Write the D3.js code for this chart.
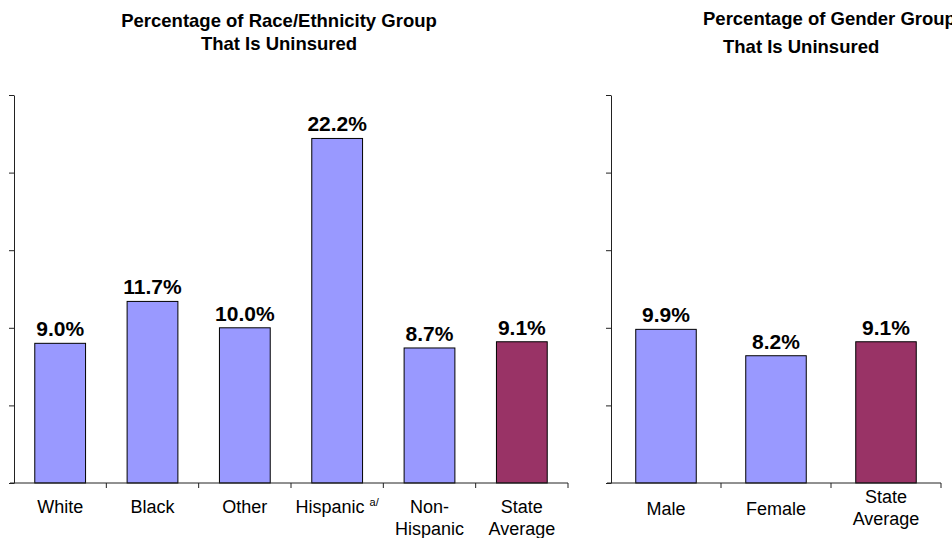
<!DOCTYPE html>
<html>
<head>
<meta charset="utf-8">
<script src="https://cdnjs.cloudflare.com/ajax/libs/d3/7.8.5/d3.min.js"></script>
<style>
  body { margin: 0; background: #fff; }
  svg { font-family: "Liberation Sans", Arial, sans-serif; }
</style>
</head>
<body>
<div id="chart"></div>
<script>
// race / ethnicity panel
var raceCats = ["White", "Black", "Other", "Hispanic", "Non-Hispanic", "State Average"];
var raceVals = [9.0, 11.7, 10.0, 22.2, 8.7, 9.1];
// gender panel
var genderCats = ["Male", "Female", "State Average"];
var genderVals = [9.9, 8.2, 9.1];
var yTicks = [0, 5, 10, 15, 20, 25];

var width = 952, height = 538;
var base = 483, top_ = 95;

var svg = d3.select("#chart").append("svg")
  .attr("width", width)
  .attr("height", height);

var y = d3.scaleLinear().domain([0, 25]).range([base, top_]);

var drawPanel = function(cats, vals, x0, x1) {
  var x = d3.scaleBand().domain(cats).range([x0, x1])
    .paddingInner(0.45).paddingOuter(0.225);
  var g = svg.append("g");

  // y axis, ticks only
  g.append("g")
    .attr("transform", "translate(" + x0 + ",0)")
    .call(d3.axisLeft(y).tickValues(yTicks).tickSize(5).tickSizeOuter(0).tickFormat(""))
    .call(function(a) { a.selectAll("line,path").attr("stroke", "#222"); });

  g.selectAll("rect.bar")
    .data(vals)
    .enter().append("rect")
    .attr("class", "bar")
    .attr("x", function(d, i) { return x(cats[i]); })
    .attr("width", x.bandwidth())
    .attr("y", function(d) { return y(d); })
    .attr("height", function(d) { return base - y(d); })
    .attr("fill", function(d, i) { return cats[i] == "State Average" ? "#993366" : "#9999ff"; })
    .attr("stroke", "#000")
    .attr("stroke-width", 1);

  g.selectAll("text.val")
    .data(vals)
    .enter().append("text")
    .attr("class", "val")
    .attr("x", function(d, i) { return x(cats[i]) + x.bandwidth() / 2; })
    .attr("y", function(d) { return y(d) - 7; })
    .attr("text-anchor", "middle")
    .style("font-size", "21px")
    .style("font-weight", "bold")
    .text(function(d) { return d.toFixed(1) + "%"; });

  // x axis line + ticks between categories
  var step = x.step();
  g.append("line")
    .attr("x1", x0 - 4).attr("x2", x1)
    .attr("y1", base).attr("y2", base)
    .attr("stroke", "#222");
  g.selectAll("line.xt")
    .data(cats)
    .enter().append("line")
    .attr("class", "xt")
    .attr("x1", function(d) { return x(d) + x.bandwidth() + (step - x.bandwidth()) / 2; })
    .attr("x2", function(d) { return x(d) + x.bandwidth() + (step - x.bandwidth()) / 2; })
    .attr("y1", base).attr("y2", base + 5)
    .attr("stroke", "#222");

  return x;
};

var xr = drawPanel(raceCats, raceVals, 14, 568);
var xg = drawPanel(genderCats, genderVals, 611, 941);

// category labels
var catLabel = function(x, cat, lines, y0) {
  var t = svg.append("text")
    .attr("text-anchor", "middle")
    .style("font-size", "18px")
    .attr("y", y0);
  lines.forEach(function(l, i) {
    t.append("tspan")
      .attr("x", x(cat) + x.bandwidth() / 2)
      .attr("dy", i == 0 ? 0 : 22)
      .text(l);
  });
  return t;
};

raceCats.forEach(function(c) {
  if (c == "Hispanic") {
    var t = svg.append("text")
      .attr("x", xr(c) + xr.bandwidth() / 2)
      .attr("y", 513)
      .attr("text-anchor", "middle")
      .style("font-size", "18px");
    t.append("tspan").text("Hispanic ");
    t.append("tspan").attr("dy", -7).style("font-size", "11px").text("a/");
  } else if (c == "Non-Hispanic") {
    catLabel(xr, c, ["Non-", "Hispanic"], 513);
  } else if (c == "State Average") {
    catLabel(xr, c, ["State", "Average"], 513);
  } else {
    catLabel(xr, c, [c], 513);
  }
});

genderCats.forEach(function(c) {
  if (c == "State Average") catLabel(xg, c, ["State", "Average"], 503);
  else catLabel(xg, c, [c], 515);
});

// titles
var title = function(xs, ys, lines, anchor) {
  lines.forEach(function(l, i) {
    svg.append("text")
      .attr("x", xs[i])
      .attr("y", ys[i])
      .attr("text-anchor", anchor)
      .style("font-size", "18.5px")
      .style("font-weight", "bold")
      .text(l);
  });
};
title([279, 279], [27, 50], ["Percentage of Race/Ethnicity Group", "That Is Uninsured"], "middle");
title([703, 723], [25, 53], ["Percentage of Gender Group", "That Is Uninsured"], "start");
</script>
</body>
</html>
